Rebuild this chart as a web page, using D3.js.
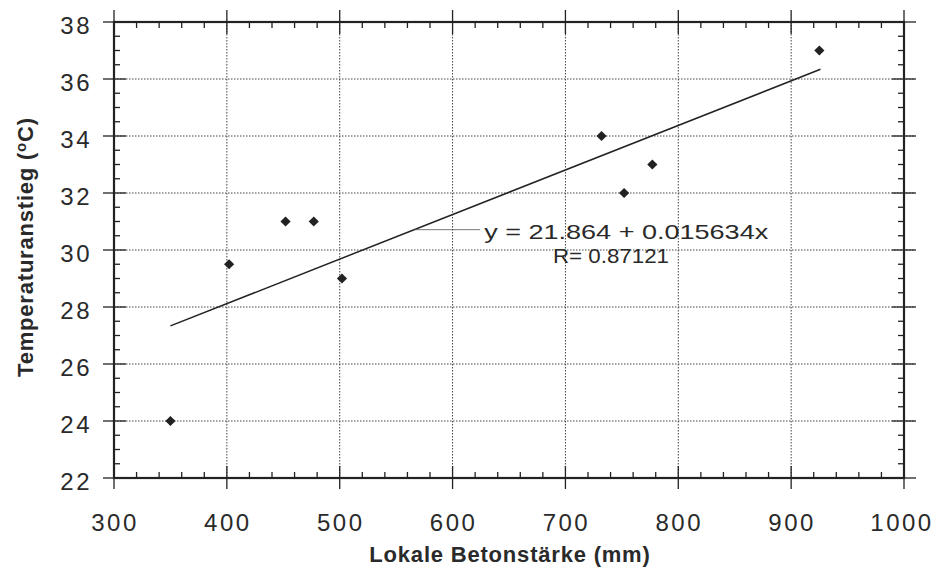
<!DOCTYPE html>
<html>
<head>
<meta charset="utf-8">
<script src="https://cdn.jsdelivr.net/npm/d3@7"></script>
<style>
	body { margin: 0; background: #fff; }
	svg { font-family: "Liberation Sans", Arial, sans-serif; }
	.tick-label { font-size: 24px; letter-spacing: 2.5px; fill: #2a2a2a; }
	.title { font-size: 22px; font-weight: bold; fill: #2a2a2a; letter-spacing: 0.8px; }
	.note { font-size: 21px; fill: #2a2a2a; }
	.grid line { stroke: #444; stroke-width: 1; stroke-dasharray: 1.5, 1.5; }
</style>
</head>
<body>
<div id="chart"></div>
<script>
// data
var thickness = [350, 402, 452, 477, 502, 732, 752, 777, 925];
var tempRise = [24, 29.5, 31, 31, 29, 34, 32, 33, 37];
var xTicks = [300, 400, 500, 600, 700, 800, 900, 1000];
var yTicks = [22, 24, 26, 28, 30, 32, 34, 36, 38];
var fitA = 21.864, fitB = 0.015634, fitR = 0.87121;
var fitRange = [350, 926];

var width = 934, height = 569;
var margin = {top: 22, right: 30, bottom: 91, left: 114};

var svg = d3.select("#chart").append("svg")
	.attr("width", width)
	.attr("height", height);

var x = d3.scaleLinear().domain([300, 1000]).range([margin.left, width - margin.right]);
var y = d3.scaleLinear().domain([22, 38]).range([height - margin.bottom, margin.top]);

var x0 = x.range()[0], x1 = x.range()[1];
var y0 = y.range()[0], y1 = y.range()[1];

// dotted grid
var grid = svg.append("g").attr("class", "grid");
grid.selectAll("line.gx")
	.data(xTicks.slice(1, -1))
	.enter().append("line")
	.attr("x1", function(d) { return x(d); })
	.attr("x2", function(d) { return x(d); })
	.attr("y1", y1)
	.attr("y2", y0);
grid.selectAll("line.gy")
	.data(yTicks.slice(1, -1))
	.enter().append("line")
	.attr("x1", x0)
	.attr("x2", x1 + 10)
	.attr("y1", function(d) { return y(d); })
	.attr("y2", function(d) { return y(d); });

// minor ticks
var xMinor = d3.range(300, 1001, 20).filter(function(d) { return d % 100 != 0; });
var yMinor = d3.range(22, 38.01, 0.5).filter(function(d) { return d % 2 != 0; });
var ticks = svg.append("g").attr("stroke", "#222").attr("stroke-width", 1.3);
xMinor.forEach(function(d) {
	ticks.append("line").attr("x1", x(d)).attr("x2", x(d)).attr("y1", y0).attr("y2", y0 - 6);
	ticks.append("line").attr("x1", x(d)).attr("x2", x(d)).attr("y1", y1).attr("y2", y1 + 6);
});
yMinor.forEach(function(d) {
	ticks.append("line").attr("x1", x0).attr("x2", x0 + 6).attr("y1", y(d)).attr("y2", y(d));
	ticks.append("line").attr("x1", x1).attr("x2", x1 - 6).attr("y1", y(d)).attr("y2", y(d));
});
// major ticks, sticking out of the frame
xTicks.forEach(function(d) {
	ticks.append("line").attr("x1", x(d)).attr("x2", x(d)).attr("y1", y0 - 12).attr("y2", y0 + 11);
	ticks.append("line").attr("x1", x(d)).attr("x2", x(d)).attr("y1", y1 - 12).attr("y2", y1 + 12);
});
yTicks.forEach(function(d) {
	ticks.append("line").attr("x1", x0 - 11).attr("x2", x0 + 12).attr("y1", y(d)).attr("y2", y(d));
	ticks.append("line").attr("x1", x1 - 12).attr("x2", x1 + 12).attr("y1", y(d)).attr("y2", y(d));
});

// frame
svg.append("rect")
	.attr("x", x0).attr("y", y1)
	.attr("width", x1 - x0).attr("height", y0 - y1)
	.attr("fill", "none")
	.attr("stroke", "#222")
	.attr("stroke-width", 2.2);

// tick labels
svg.selectAll("text.xl")
	.data(xTicks)
	.enter().append("text")
	.attr("class", "tick-label")
	.attr("x", function(d) { return d == 1000 ? x(d) - 2 : x(d) + 1; })
	.attr("y", y0 + 53)
	.attr("text-anchor", "middle")
	.text(function(d) { return d; });
svg.selectAll("text.yl")
	.data(yTicks)
	.enter().append("text")
	.attr("class", "tick-label")
	.attr("x", x0 - 22)
	.attr("y", function(d) { return y(d) + 12; })
	.attr("text-anchor", "end")
	.text(function(d) { return d; });

// axis titles
svg.append("text")
	.attr("class", "title")
	.attr("x", 510)
	.attr("y", 562)
	.attr("text-anchor", "middle")
	.text("Lokale Betonstärke (mm)");

var yt = svg.append("text")
	.attr("class", "title")
	.attr("transform", "translate(33,247) rotate(-90)")
	.attr("text-anchor", "middle");
yt.append("tspan").text("Temperaturanstieg (");
yt.append("tspan").attr("dy", -7).attr("font-size", 15).text("o");
yt.append("tspan").attr("dy", 7).text("C)");

// regression line
var line = d3.line()
	.x(function(d) { return x(d); })
	.y(function(d) { return y(fitA + fitB * d); });
svg.append("path")
	.datum(fitRange)
	.attr("d", line)
	.attr("fill", "none")
	.attr("stroke", "#222")
	.attr("stroke-width", 1.5);

// leader to label
var leadX = 566;
var leadY = y(fitA + fitB * leadX);
svg.append("line")
	.attr("x1", x(leadX)).attr("x2", x(leadX) + 66)
	.attr("y1", leadY).attr("y2", leadY)
	.attr("stroke", "#555")
	.attr("stroke-width", 0.8);

svg.append("text")
	.attr("class", "note")
	.attr("x", x(leadX) + 70)
	.attr("y", leadY + 9)
	.attr("textLength", 284)
	.attr("lengthAdjust", "spacingAndGlyphs")
	.text("y = " + fitA + " + " + fitB + "x");
svg.append("text")
	.attr("class", "note")
	.attr("x", 553)
	.attr("y", leadY + 33)
	.attr("textLength", 116)
	.attr("lengthAdjust", "spacingAndGlyphs")
	.text("R= " + fitR);

// data points
svg.selectAll("path.pt")
	.data(thickness)
	.enter().append("path")
	.attr("class", "pt")
	.attr("d", d3.symbol().type(d3.symbolSquare).size(52))
	.attr("transform", function(d, i) { return "translate(" + x(d) + "," + y(tempRise[i]) + ") rotate(45)"; })
	.attr("fill", "#222");
</script>
</body>
</html>
